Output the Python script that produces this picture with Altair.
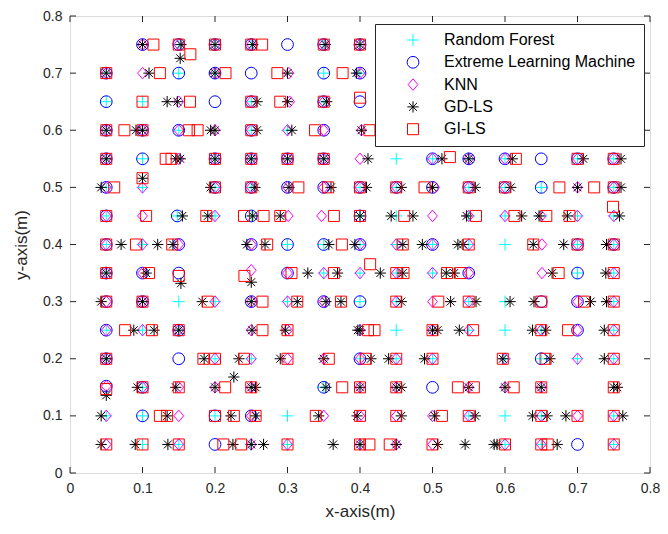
import altair as alt
import pandas as pd

METHODS = ["Random Forest", "Extreme Learning Machine", "KNN", "GD-LS", "GI-LS"]
COLORS = ["#00FFFF", "#0000FF", "#FF00FF", "#000000", "#FF0000"]
TICKS = [0, 0.1, 0.2, 0.3, 0.4, 0.5, 0.6, 0.7, 0.8]

RF_ROWS = {
    0.75: [0.1, 0.15, 0.2, 0.25, 0.35, 0.4],
    0.70: [0.05, 0.15, 0.2, 0.35, 0.4],
    0.65: [0.05, 0.1, 0.25, 0.35],
    0.60: [0.05, 0.1, 0.15, 0.25, 0.3],
    0.55: [0.05, 0.1, 0.2, 0.25, 0.3, 0.35, 0.45, 0.5, 0.55, 0.6, 0.7, 0.75],
    0.50: [0.05, 0.1, 0.2, 0.25, 0.4, 0.45, 0.5, 0.55, 0.6, 0.65, 0.75],
    0.45: [0.05, 0.148, 0.2, 0.25, 0.4, 0.45, 0.55, 0.6, 0.65, 0.7, 0.75],
    0.40: [0.05, 0.1, 0.3, 0.35, 0.4, 0.45, 0.5, 0.55, 0.6, 0.7, 0.75],
    0.35: [0.05, 0.35, 0.4, 0.45, 0.5, 0.7, 0.75],
    0.30: [0.1, 0.15, 0.2, 0.3, 0.4, 0.45, 0.55, 0.6, 0.75],
    0.25: [0.05, 0.1, 0.15, 0.4, 0.45, 0.55, 0.6, 0.65, 0.75],
    0.20: [0.05, 0.2, 0.25, 0.4, 0.45, 0.5, 0.6, 0.65, 0.7, 0.75],
    0.15: [0.1, 0.35],
    0.10: [0.05, 0.1, 0.2, 0.3, 0.55, 0.6, 0.65, 0.75],
    0.05: [0.1, 0.15, 0.25, 0.3, 0.4, 0.6, 0.65, 0.75],
}
RF_EXTRA = []

ELM_ROWS = {
    0.75: [0.1, 0.15, 0.2, 0.25, 0.3, 0.35, 0.4],
    0.70: [0.05, 0.15, 0.2, 0.25, 0.35, 0.4],
    0.65: [0.05, 0.2, 0.25, 0.35, 0.4],
    0.60: [0.05, 0.1, 0.15, 0.25, 0.35],
    0.55: [0.05, 0.1, 0.2, 0.25, 0.3, 0.35, 0.5, 0.55, 0.6, 0.65, 0.7, 0.75],
    0.50: [0.05, 0.2, 0.25, 0.3, 0.35, 0.4, 0.45, 0.5, 0.55, 0.6, 0.65, 0.75],
    0.45: [0.05, 0.148, 0.25, 0.4],
    0.40: [0.05, 0.15, 0.25, 0.3, 0.35, 0.4, 0.5, 0.7, 0.75],
    0.35: [0.05, 0.1, 0.15, 0.3, 0.55, 0.7],
    0.30: [0.05, 0.1, 0.25, 0.35, 0.4, 0.65, 0.7],
    0.25: [0.05, 0.15, 0.7],
    0.20: [0.05, 0.15, 0.4, 0.65],
    0.15: [0.1, 0.35, 0.5],
    0.10: [0.1, 0.2, 0.25],
    0.05: [0.2, 0.7],
}
ELM_EXTRA = [(0.05, 0.152)]

KNN_ROWS = {
    0.75: [0.1, 0.15, 0.2, 0.25, 0.35, 0.4],
    0.70: [0.05, 0.1, 0.2, 0.302, 0.4],
    0.65: [0.15, 0.25, 0.303, 0.35],
    0.60: [0.05, 0.1, 0.15, 0.2, 0.25, 0.3, 0.35, 0.402],
    0.55: [0.05, 0.15, 0.2, 0.25, 0.3, 0.35, 0.4, 0.5, 0.55, 0.6, 0.7, 0.75],
    0.50: [0.05, 0.1, 0.2, 0.25, 0.3, 0.35, 0.4, 0.45, 0.503, 0.55, 0.6, 0.7, 0.75],
    0.45: [0.05, 0.1, 0.2, 0.301, 0.347, 0.5, 0.55, 0.6, 0.65, 0.7, 0.75],
    0.40: [0.05, 0.1, 0.15, 0.25, 0.4, 0.45, 0.5, 0.55, 0.651, 0.7, 0.75],
    0.35: [0.05, 0.1, 0.3, 0.35, 0.4, 0.45, 0.5, 0.55, 0.651, 0.75],
    0.30: [0.05, 0.1, 0.2, 0.25, 0.3, 0.35, 0.45, 0.5, 0.55, 0.7, 0.75],
    0.25: [0.05, 0.1, 0.15, 0.25, 0.3, 0.4, 0.5, 0.55, 0.65, 0.7, 0.75],
    0.20: [0.05, 0.2, 0.25, 0.3, 0.35, 0.4, 0.45, 0.5, 0.6, 0.7, 0.75],
    0.15: [0.1, 0.15, 0.2, 0.25, 0.4, 0.45, 0.55, 0.6, 0.65],
    0.10: [0.05, 0.15, 0.25, 0.35, 0.4, 0.45, 0.5, 0.55, 0.65, 0.7, 0.75],
    0.05: [0.05, 0.15, 0.25, 0.3, 0.4, 0.45, 0.5, 0.6, 0.65, 0.75],
}
KNN_EXTRA = [(0.25, 0.355), (0.05, 0.152)]

GD_ROWS = {
    0.75: [0.1, 0.153, 0.2, 0.252, 0.352, 0.4],
    0.70: [0.05, 0.109, 0.2, 0.3, 0.395],
    0.65: [0.134, 0.148, 0.258, 0.3, 0.354],
    0.60: [0.05, 0.091, 0.1, 0.194, 0.2, 0.258, 0.306, 0.402],
    0.55: [0.05, 0.146, 0.152, 0.2, 0.25, 0.3, 0.35, 0.411, 0.513, 0.55, 0.61, 0.708, 0.76],
    0.50: [0.043, 0.194, 0.255, 0.302, 0.36, 0.409, 0.457, 0.5, 0.559, 0.608, 0.7, 0.76],
    0.45: [0.155, 0.19, 0.252, 0.29, 0.4, 0.443, 0.473, 0.547, 0.623, 0.647, 0.686, 0.758],
    0.40: [0.0705, 0.121, 0.142, 0.244, 0.269, 0.357, 0.393, 0.459, 0.486, 0.535, 0.542,
           0.639, 0.681, 0.74],
    0.35: [0.05, 0.105, 0.328, 0.369, 0.428, 0.459, 0.519, 0.53, 0.665, 0.739],
    0.30: [0.043, 0.1, 0.1825, 0.25, 0.3135, 0.353, 0.3737, 0.457, 0.525, 0.56, 0.607, 0.64,
           0.718, 0.74],
    0.25: [0.088, 0.116, 0.15, 0.251, 0.297, 0.397, 0.4, 0.5, 0.507, 0.537, 0.638, 0.656, 0.737],
    0.20: [0.05, 0.185, 0.233, 0.29, 0.35, 0.415, 0.4395, 0.489, 0.597, 0.662, 0.737],
    0.15: [0.093, 0.146, 0.2, 0.25, 0.256, 0.353, 0.4, 0.45, 0.457, 0.55, 0.6, 0.65, 0.75, 0.755],
    0.10: [0.043, 0.134, 0.222, 0.256, 0.343, 0.396, 0.457, 0.503, 0.559, 0.638, 0.658, 0.684,
           0.7625],
    0.05: [0.043, 0.09, 0.135, 0.2247, 0.25, 0.267, 0.363, 0.4, 0.45, 0.507, 0.545, 0.585,
           0.589, 0.672],
}
GD_EXTRA = [(0.152, 0.726), (0.1, 0.516), (0.153, 0.332), (0.25, 0.334), (0.05, 0.136),
            (0.226, 0.168)]

GI_ROWS = {
    0.75: [0.115, 0.15, 0.2, 0.25, 0.265, 0.35, 0.4],
    0.70: [0.05, 0.124, 0.2145, 0.286, 0.376],
    0.65: [0.1, 0.1655, 0.25, 0.29, 0.35],
    0.60: [0.05, 0.075, 0.1, 0.164, 0.176, 0.25, 0.338, 0.413],
    0.55: [0.05, 0.132, 0.14, 0.2, 0.25, 0.3, 0.35, 0.615, 0.7, 0.75],
    0.50: [0.061, 0.2, 0.25, 0.315, 0.356, 0.4, 0.45, 0.489, 0.55, 0.6, 0.675, 0.723, 0.75],
    0.45: [0.05, 0.105, 0.188, 0.24, 0.267, 0.29, 0.364, 0.4, 0.461, 0.56, 0.613, 0.657, 0.689],
    0.40: [0.05, 0.091, 0.141, 0.272, 0.375, 0.459, 0.55, 0.639, 0.7, 0.75],
    0.35: [0.05, 0.109, 0.3055, 0.364, 0.45, 0.46, 0.52, 0.539, 0.674, 0.75],
    0.30: [0.05, 0.1, 0.19, 0.2655, 0.3135, 0.3737, 0.45, 0.508, 0.55, 0.65, 0.709, 0.75],
    0.25: [0.076, 0.113, 0.15, 0.2655, 0.3, 0.411, 0.42, 0.5, 0.556, 0.65, 0.687, 0.75],
    0.20: [0.05, 0.184, 0.2, 0.24, 0.3, 0.357, 0.408, 0.45, 0.5, 0.597, 0.656, 0.75],
    0.15: [0.1, 0.15, 0.214, 0.25, 0.3755, 0.4, 0.45, 0.535, 0.557, 0.612, 0.65, 0.75],
    0.10: [0.124, 0.134, 0.2, 0.226, 0.256, 0.339, 0.4, 0.45, 0.513, 0.55, 0.65, 0.7, 0.75],
    0.05: [0.05, 0.1, 0.15, 0.2115, 0.236, 0.3, 0.4, 0.413, 0.441, 0.5, 0.6, 0.65, 0.659, 0.75],
}
GI_EXTRA = [(0.166, 0.733), (0.4, 0.657), (0.524, 0.553), (0.1, 0.516), (0.749, 0.466),
            (0.2406, 0.345), (0.414, 0.3655), (0.15, 0.345), (0.05, 0.147)]

SERIES = [
    (METHODS[0], RF_ROWS, RF_EXTRA),
    (METHODS[1], ELM_ROWS, ELM_EXTRA),
    (METHODS[2], KNN_ROWS, KNN_EXTRA),
    (METHODS[3], GD_ROWS, GD_EXTRA),
    (METHODS[4], GI_ROWS, GI_EXTRA),
]

records = []
for k, (name, rows, extra) in enumerate(SERIES):
    for yv, xs in rows.items():
        for xv in xs:
            records.append({"x": xv, "y": yv, "method": name, "k": k})
    for xv, yv in extra:
        records.append({"x": xv, "y": yv, "method": name, "k": k})
df = pd.DataFrame(records)
ticks_df = pd.DataFrame({"t": TICKS})

# marker glyphs (style only)
SHAPES = [
    "M-1,0L1,0M0,-1L0,1",
    "circle",
    "M0,-1L0.85,0L0,1L-0.85,0Z",
    "M-1,0L1,0M0,-1L0,1M-0.7,-0.7L0.7,0.7M-0.7,0.7L0.7,-0.7",
    "square",
]
SIZES = [144, 121, 196, 144, 90]

W, H = 580, 457
FONT = "Liberation Sans"
TXT = "#262626"

xscale = alt.Scale(domain=[0, 0.8], nice=False, zero=False)
yscale = alt.Scale(domain=[0, 0.8], nice=False, zero=False)

xaxis = alt.Axis(values=TICKS, format=".1~f", title="x-axis(m)", ticks=False, tickSize=0,
                 domain=False, grid=False, labelPadding=8, titlePadding=8,
                 labelFontSize=14, titleFontSize=17, labelColor=TXT, titleColor=TXT,
                 labelFont=FONT, titleFont=FONT, titleFontWeight="normal", labelFlush=False)
yaxis = alt.Axis(values=TICKS, format=".1~f", title="y-axis(m)", ticks=False, tickSize=0,
                 domain=False, grid=False, labelPadding=8, titlePadding=12,
                 labelFontSize=14, titleFontSize=17, labelColor=TXT, titleColor=TXT,
                 labelFont=FONT, titleFont=FONT, titleFontWeight="normal", labelFlush=False)

legend = alt.Legend(title=None, orient="none", legendX=305, legendY=8,
                    fillColor="white", strokeColor=TXT, padding=8,
                    labelFontSize=16, labelFont=FONT, labelColor="#000000",
                    symbolStrokeWidth=1, symbolSize=150, rowPadding=6.3,
                    symbolOffset=22, labelOffset=23, labelLimit=400)

points = alt.Chart(df).mark_point(filled=False, strokeWidth=1, opacity=1).encode(
    x=alt.X("x:Q", scale=xscale, axis=xaxis, title="x-axis(m)"),
    y=alt.Y("y:Q", scale=yscale, axis=yaxis, title="y-axis(m)"),
    color=alt.Color("method:N", scale=alt.Scale(domain=METHODS, range=COLORS), legend=legend),
    shape=alt.Shape("method:N", scale=alt.Scale(domain=METHODS, range=SHAPES), legend=legend),
    size=alt.Size("method:N", scale=alt.Scale(domain=METHODS, range=SIZES), legend=None),
)

TL = 6
bottom_ticks = alt.Chart(ticks_df).mark_rule(color=TXT, strokeWidth=1).encode(
    x=alt.X("t:Q", scale=xscale, axis=xaxis, title="x-axis(m)"),
    y=alt.value(H), y2=alt.value(H - TL))
top_ticks = alt.Chart(ticks_df).mark_rule(color=TXT, strokeWidth=1).encode(
    x=alt.X("t:Q", scale=xscale, axis=xaxis, title="x-axis(m)"),
    y=alt.value(0), y2=alt.value(TL))
left_ticks = alt.Chart(ticks_df).mark_rule(color=TXT, strokeWidth=1).encode(
    y=alt.Y("t:Q", scale=yscale, axis=yaxis, title="y-axis(m)"),
    x=alt.value(0), x2=alt.value(TL))
right_ticks = alt.Chart(ticks_df).mark_rule(color=TXT, strokeWidth=1).encode(
    y=alt.Y("t:Q", scale=yscale, axis=yaxis, title="y-axis(m)"),
    x=alt.value(W), x2=alt.value(W - TL))

chart = alt.layer(points, bottom_ticks, top_ticks, left_ticks, right_ticks).properties(
    width=W, height=H,
    autosize=alt.AutoSizeParams(type="none"),
    padding={"left": 62, "top": 8, "right": 10, "bottom": 53},
).configure_view(stroke=TXT, strokeWidth=1).configure(background="white")

chart.save("out.html", embed_options={"renderer": "svg", "actions": False})
